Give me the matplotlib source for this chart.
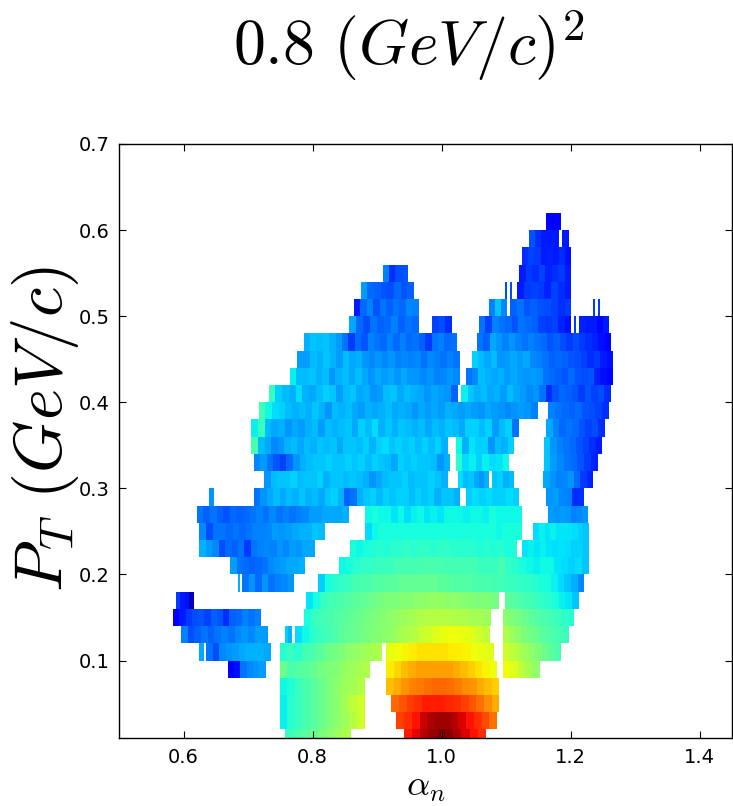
import matplotlib
matplotlib.use("Agg")
import matplotlib.pyplot as plt
import numpy as np

plt.rcParams["mathtext.fontset"] = "cm"

# one entry per PT bin: (alpha_start, alpha_end, jet level x100 left to right)
ROW_000 = [(0.7568, 0.86, [42, 44, 46, 48, 50, 52, 54, 56]), (0.941, 1.069, [88, 91, 95, 98, 100, 99, 96, 92, 89, 86])]
ROW_002 = [(0.7491, 0.8807, [36, 40, 42, 44, 46, 48, 50, 52, 54, 57, 60]), (0.9297, 1.086, [84, 86, 89, 93, 96, 97, 97, 95, 92, 89, 86, 83, 79])]
ROW_004 = [(0.7491, 0.8807, [36, 40, 42, 44, 46, 48, 50, 52, 55, 58, 60]), (0.9219, 1.0896, [80, 82, 84, 86, 88, 88, 88, 87, 86, 84, 82, 79, 76, 73])]
ROW_006 = [(0.7491, 0.8807, [37, 39, 42, 44, 46, 48, 50, 52, 54, 55, 57]), (0.9142, 1.0896, [71, 73, 75, 77, 78, 79, 80, 80, 79, 78, 76, 75, 73, 71, 69])]
ROW_008 = [(0.6686, 0.7274, [12, 14, 24, 26, 27, 28]), (0.7491, 0.8884, [48, 44, 45, 46, 47, 49, 50, 51, 53, 54, 55, 56]), (0.9142, 1.086, [66, 68, 71, 73, 74, 74, 74, 74, 74, 73, 71, 69, 67, 65, 64]), (1.0948, 1.1531, [64, 62, 58, 55, 52])]
ROW_010 = [(0.6247, 0.6314, [29]), (0.6356, 0.7351, [24, 20, 26, 27, 28, 29, 30, 30, 30, 29]), (0.7491, 0.9075, [40, 42, 40, 43, 44, 46, 48, 49, 50, 52, 53, 54, 55, 56]), (0.9142, 1.0804, [63, 64, 65, 66, 67, 67, 67, 67, 66, 66, 65, 64, 63, 62]), (1.0948, 1.1856, [60, 58, 56, 54, 52, 50, 48, 46, 44])]
ROW_012 = [(0.5958, 0.7315, [25, 20, 22, 24, 22, 24, 25, 24, 26, 27, 26, 28, 28]), (0.7568, 0.7677, [33, 30]), (0.7723, 1.0757, [34, 37, 40, 42, 43, 44, 46, 47, 48, 49, 50, 51, 52, 53, 55, 56, 57, 59, 60, 62, 63, 64, 64, 63, 62, 60, 58]), (1.0948, 1.197, [56, 54, 52, 50, 49, 48, 46, 45, 44, 43, 42])]
ROW_014 = [(0.584, 0.7197, [12, 15, 18, 20, 21, 19, 22, 21, 17, 22, 23, 25, 24, 25]), (0.7862, 1.0767, [38, 42, 43, 44, 45, 46, 47, 48, 49, 50, 51, 52, 53, 54, 55, 56, 57, 57, 57, 57, 56, 56, 55, 55, 54]), (1.0948, 1.2047, [52, 50, 49, 48, 46, 45, 44, 43, 42, 41, 40])]
ROW_016 = [(0.588, 0.616, [18, 15, 14, 5]), (0.7893, 1.0896, [35, 38, 42, 43, 44, 45, 46, 47, 48, 49, 50, 50, 51, 51, 52, 52, 53, 53, 52, 52, 51, 51, 50, 50, 49]), (1.0984, 1.2124, [46, 45, 44, 43, 42, 41, 40, 38, 36, 35, 32])]
ROW_018 = [(0.684, 0.6877, [30]), (0.6913, 0.7713, [24, 27, 23, 27, 24, 25, 26, 27]), (0.809, 1.2212, [33, 38, 40, 41, 42, 43, 44, 44, 45, 45, 46, 46, 47, 47, 47, 47, 47, 47, 46, 46, 45, 45, 45, 44, 44, 44, 43, 43, 42, 42, 41, 41, 40, 39, 38, 36, 34, 32, 30, 26])]
ROW_020 = [(0.6727, 0.7883, [28, 24, 23, 22, 23, 24, 26, 27, 28, 29, 29, 30]), (0.8409, 1.228, [37, 38, 40, 41, 41, 42, 42, 42, 43, 43, 43, 43, 44, 44, 44, 43, 43, 43, 43, 43, 42, 42, 42, 44, 41, 40, 38, 37, 36, 37, 37, 35, 34, 33, 34, 32])]
ROW_022 = [(0.6247, 0.8038, [30, 28, 26, 20, 23, 22, 24, 18, 24, 25, 26, 25, 27, 26, 28, 27, 29, 29]), (0.8574, 1.117, [38, 37, 38, 39, 40, 39, 40, 40, 41, 40, 41, 41, 40, 41, 41, 40, 40, 40, 40, 39, 40, 39, 40, 38, 39]), (1.1247, 1.228, [35, 36, 35, 36, 35, 34, 35, 34, 33, 33, 32])]
ROW_024 = [(0.6247, 0.8193, [26, 20, 24, 24, 23, 24, 23, 24, 25, 25, 26, 28, 27, 28, 29, 30, 30, 32, 31]), (0.8817, 1.1242, [34, 37, 38, 38, 38, 38, 38, 38, 38, 38, 38, 38, 38, 38, 38, 38, 38, 38, 38, 38, 37, 38, 38, 38]), (1.1423, 1.228, [34, 36, 35, 36, 35, 35, 35, 34, 33, 32])]
ROW_026 = [(0.6206, 0.8559, [24, 22, 24, 22, 21, 23, 22, 23, 24, 25, 24, 26, 24, 25, 24, 25, 26, 28, 28, 29, 29, 29, 30]), (0.8817, 1.1242, [37, 38, 37, 37, 35, 37, 34, 36, 37, 35, 36, 35, 37, 37, 37, 36, 37, 37, 36, 38, 37, 37, 37, 37]), (1.1655, 1.2264, [28, 27, 28, 27, 25, 26, 27])]
ROW_028 = [(0.6402, 0.6469, [27]), (0.7088, 1.0287, [24, 27, 29, 31, 29, 31, 30, 32, 30, 31, 29, 32, 33, 30, 22, 24, 30, 32, 33, 31, 33, 32, 33, 33, 31, 33, 32, 33, 30, 32, 32, 30]), (1.037, 1.1206, [33, 34, 33, 34, 33, 33, 34, 33]), (1.1619, 1.2212, [27, 28, 26, 25, 17, 17])]
ROW_030 = [(0.7248, 1.0097, [27, 31, 32, 32, 33, 31, 32, 32, 33, 30, 32, 32, 31, 32, 31, 30, 27, 29, 31, 32, 32, 33, 31, 32, 32, 33, 32, 30]), (1.0257, 1.0731, [34, 31, 32, 29, 27, 30]), (1.0773, 1.1129, [32, 33, 30, 31]), (1.1577, 1.2341, [29, 27, 25, 26, 27, 23, 18, 16])]
ROW_032 = [(0.7088, 1.0132, [26, 28, 24, 21, 19, 23, 27, 30, 31, 32, 32, 33, 32, 32, 33, 32, 33, 31, 33, 32, 31, 29, 33, 32, 33, 32, 32, 31, 27, 30]), (1.0215, 1.105, [40, 34, 36, 33, 36, 34, 35, 37]), (1.1582, 1.2418, [32, 28, 26, 24, 23, 21, 18, 16])]
ROW_034 = [(0.7052, 1.0096, [44, 31, 29, 26, 27, 30, 31, 29, 31, 30, 32, 31, 32, 29, 32, 32, 31, 33, 30, 33, 34, 32, 33, 32, 33, 31, 33, 31, 33, 30]), (1.0215, 1.1128, [37, 30, 35, 33, 33, 27, 31, 30, 33]), (1.1582, 1.2485, [32, 27, 25, 24, 23, 21, 19, 17, 15])]
ROW_036 = [(0.7052, 1.1195, [36, 42, 31, 29, 30, 27, 29, 28, 30, 31, 28, 31, 30, 31, 32, 29, 33, 31, 34, 30, 32, 30, 32, 31, 30, 31, 29, 31, 30, 32, 31, 29, 33, 33, 31, 33, 28, 31, 33, 24]), (1.162, 1.253, [29, 25, 23, 24, 23, 21, 19, 20, 17])]
ROW_038 = [(0.7165, 1.149, [43, 37, 34, 33, 31, 30, 31, 30, 32, 30, 27, 31, 30, 31, 29, 28, 30, 29, 30, 31, 29, 30, 29, 27, 29, 28, 29, 28, 30, 29, 28, 29, 28, 27, 29, 28, 27, 26, 27, 28, 27, 25]), (1.1655, 1.259, [25, 24, 23, 22, 23, 21, 20, 19, 17])]
ROW_040 = [(0.732, 1.025, [42, 33, 31, 30, 34, 30, 29, 31, 33, 32, 28, 31, 32, 29, 30, 27, 28, 31, 32, 29, 31, 30, 29, 27, 29, 28, 27, 22]), (1.0303, 1.2625, [36, 32, 30, 31, 29, 30, 28, 31, 29, 28, 26, 27, 24, 17, 21, 23, 22, 21, 18, 21, 19, 20, 17])]
ROW_042 = [(0.7646, 1.028, [36, 31, 31, 32, 30, 31, 27, 30, 31, 29, 31, 29, 27, 29, 28, 29, 27, 29, 27, 27, 26, 27, 25, 26, 27, 26]), (1.037, 1.266, [24, 26, 31, 30, 29, 30, 28, 29, 28, 27, 28, 27, 24, 23, 22, 21, 23, 21, 20, 21, 16, 14, 13])]
ROW_044 = [(0.7759, 1.028, [28, 28, 31, 30, 32, 30, 28, 31, 29, 30, 27, 26, 27, 26, 27, 25, 26, 25, 26, 24, 26, 25, 24, 25, 24]), (1.0463, 1.266, [33, 31, 29, 31, 27, 28, 29, 28, 29, 26, 25, 24, 22, 23, 22, 21, 20, 19, 17, 18, 15, 14])]
ROW_046 = [(0.7862, 1.024, [30, 32, 31, 32, 30, 28, 24, 18, 23, 21, 25, 24, 23, 25, 23, 25, 23, 24, 22, 18, 24, 25, 23, 24]), (1.0545, 1.2625, [24, 22, 29, 27, 25, 27, 25, 24, 25, 24, 23, 21, 22, 20, 18, 20, 18, 17, 16, 14, 13])]
ROW_048 = [(0.8564, 0.9647, [29, 23, 20, 24, 22, 23, 25, 22, 24, 23]), (0.985, 1.0163, [19, 20, 17]), (1.0576, 1.201, [24, 19, 25, 24, 23, 21, 24, 23, 22, 19, 18, 19, 16, 14]), (1.205, 1.2088, [18]), (1.2134, 1.2588, [16, 15, 15, 13, 15])]
ROW_050 = [(0.8641, 0.9647, [15, 23, 25, 21, 24, 22, 24, 23, 26, 25]), (1.073, 1.102, [25, 32, 26]), (1.106, 1.201, [22, 24, 21, 22, 21, 20, 19, 17, 18]), (1.234, 1.2377, [18]), (1.242, 1.2455, [18])]
ROW_052 = [(0.8744, 0.957, [28, 23, 22, 21, 20, 23, 21, 22]), (1.0984, 1.1015, [20]), (1.106, 1.109, [20]), (1.1175, 1.201, [15, 18, 19, 18, 16, 19, 17, 15])]
ROW_054 = [(0.909, 0.9477, [25, 17, 20, 21]), (1.1206, 1.201, [15, 18, 17, 19, 16, 17, 18, 15])]
ROW_056 = [(1.1247, 1.201, [17, 19, 18, 15, 16, 15, 17, 14])]
ROW_058 = [(1.135, 1.1815, [21, 17, 15, 15, 15]), (1.1866, 1.197, [15])]
ROW_060 = [(1.1618, 1.1856, [12, 13])]

PT_EDGES = [0.00, 0.02, 0.04, 0.06, 0.08, 0.10, 0.12, 0.14, 0.16, 0.18, 0.20, 0.22, 0.24, 0.26, 0.28, 0.30,
            0.32, 0.34, 0.36, 0.38, 0.40, 0.42, 0.44, 0.46, 0.48, 0.50, 0.52, 0.54, 0.56, 0.58, 0.60, 0.62]
ROWS = [ROW_000, ROW_002, ROW_004, ROW_006, ROW_008, ROW_010, ROW_012, ROW_014, ROW_016, ROW_018, ROW_020,
        ROW_022, ROW_024, ROW_026, ROW_028, ROW_030, ROW_032, ROW_034, ROW_036, ROW_038, ROW_040, ROW_042,
        ROW_044, ROW_046, ROW_048, ROW_050, ROW_052, ROW_054, ROW_056, ROW_058, ROW_060]

X_TICKS = [0.6, 0.8, 1.0, 1.2, 1.4]
Y_TICKS = [0.1, 0.2, 0.3, 0.4, 0.5, 0.6, 0.7]


fig = plt.figure(figsize=(7.33, 8.06), dpi=100)
ax = fig.add_axes([119 / 733, 1 - 738 / 806, 613 / 733, 594 / 806])

for i, row in enumerate(ROWS):
    for start, end, levels in row:
        edges = np.linspace(start, end, len(levels) + 1)
        ax.pcolormesh(edges, PT_EDGES[i:i + 2], [levels], cmap="jet", vmin=0, vmax=100, linewidth=0, rasterized=True)

ax.set_xlim(0.5, 1.45)
ax.set_ylim(0.01, 0.7)
ax.set_xticks(X_TICKS)
ax.set_yticks(Y_TICKS)
ax.tick_params(direction="in", top=True, right=True, length=5, width=0.8, labelsize=14, pad=7)
for spine in ax.spines.values():
    spine.set_linewidth(1.0)
ax.set_xlabel(r"$\alpha_n$", fontsize=26, labelpad=2)
fig.text(45 / 733, 1 - 429 / 806, r"$P_T\ (GeV/c)$", fontsize=48, rotation=90, ha="center", va="center")
fig.text(409 / 733, 1 - 46 / 806, r"$\mathrm{0.8}\ (GeV/c)^2$", fontsize=46, ha="center", va="center")

fig.savefig("out.png", dpi=100)
